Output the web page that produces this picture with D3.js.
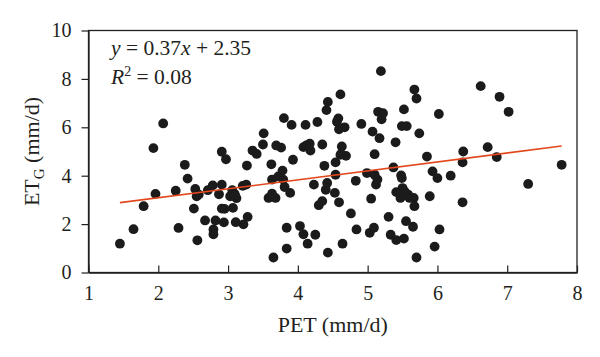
<!DOCTYPE html>
<html>
<head>
<meta charset="utf-8">
<script src="https://cdn.jsdelivr.net/npm/d3@7"></script>
<style>
  html, body { margin: 0; padding: 0; background: #fff; }
  svg { display: block; }
  text { font-family: "Liberation Serif", "DejaVu Serif", serif; fill: #231f20; }
</style>
</head>
<body>
<script>
// ---- data ----
const pet = [1.45,1.645,1.79,1.96,1.93,2.07,2.25,2.29,2.38,2.42,2.51,2.53,2.55,2.58,2.56,2.67,2.71,2.78,2.79,2.79,2.82,2.87,2.91,2.91,2.91,2.94,2.97,2.95,3.03,3.06,3.07,3.09,3.12,3.11,3.21,3.22,3.26,3.27,3.28,3.35,3.41,3.50,3.51,3.58,3.62,3.63,3.63,3.65,3.68,3.69,3.72,3.76,3.78,3.80,3.79,3.81,3.84,3.84,3.91,3.89,3.93,4.03,4.08,4.08,4.11,4.14,4.14,4.17,4.18,4.23,4.25,4.28,4.30,4.35,4.35,4.38,4.41,4.43,4.40,4.42,4.43,4.53,4.54,4.54,4.56,4.58,4.59,4.59,4.61,4.63,4.61,4.64,4.67,4.69,4.76,4.83,4.84,4.91,4.99,5.03,5.05,5.07,5.09,5.10,5.10,5.12,5.14,5.15,5.17,5.19,5.20,5.22,5.30,5.33,5.37,5.40,5.41,5.41,5.47,5.48,5.49,5.50,5.52,5.52,5.49,5.55,5.56,5.58,5.60,5.65,5.66,5.67,5.67,5.70,5.70,5.74,5.85,5.89,5.93,5.96,6.00,6.02,6.03,6.19,6.36,6.37,6.36,6.62,6.72,6.85,6.89,7.02,7.30,7.78,5.45,5.53,3.10,4.62,4.12];
const etg = [1.19,1.79,2.74,3.25,5.14,6.16,3.38,1.84,4.45,3.88,2.64,3.45,3.15,3.22,1.33,2.15,3.40,3.60,1.78,1.58,2.15,3.23,3.63,4.99,2.64,2.07,4.68,2.63,3.15,3.40,2.67,3.26,3.07,2.08,3.58,1.99,3.63,4.42,2.30,5.04,4.90,5.29,5.75,3.08,4.47,3.26,3.84,0.62,3.08,5.25,3.97,5.16,4.21,6.38,3.84,3.53,1.85,0.99,6.10,3.29,4.66,1.92,1.58,5.18,6.10,1.19,5.21,5.32,5.04,3.63,1.56,6.22,2.78,2.95,5.29,4.41,6.71,7.05,3.42,3.70,0.82,3.29,4.55,4.04,6.23,6.37,2.90,5.92,7.36,5.21,4.86,1.19,6.00,4.82,2.44,3.79,1.78,6.14,4.11,1.64,3.05,5.82,1.85,4.89,4.04,3.63,3.84,6.64,5.55,8.32,6.33,6.58,2.30,1.56,4.34,5.38,1.34,3.32,3.08,4.01,3.90,3.49,6.74,1.40,6.05,2.12,6.05,3.22,3.08,1.89,3.08,2.74,7.56,7.19,0.62,5.75,4.79,3.15,4.18,1.07,3.90,6.55,1.78,4.00,4.55,5.00,2.90,7.70,5.18,4.77,7.26,6.64,3.66,4.45,3.30,3.35,3.20,4.90,5.25];
const slope = 0.37, intercept = 2.35;
const fitRange = [1.45, 7.78];
const xTicks = [1, 2, 3, 4, 5, 6, 7, 8];
const yTicks = [0, 2, 4, 6, 8, 10];

// ---- layout ----
const W = 600, H = 357;
const L = 88.5, R = 577, T = 30.5, B = 272.5;

const svg = d3.select("body").append("svg").attr("width", W).attr("height", H);

const x = d3.scaleLinear().domain([1, 8]).range([L, R]);
const y = d3.scaleLinear().domain([0, 10]).range([B, T]);

const ink = "#231f20";

// points
svg.append("g").selectAll("circle")
  .data(pet.map((p, i) => [p, etg[i]]))
  .join("circle")
  .attr("cx", d => x(d[0]))
  .attr("cy", d => y(d[1]))
  .attr("r", 4.9)
  .attr("fill", "#1b1b1b");

// regression line
svg.append("line")
  .attr("x1", x(fitRange[0])).attr("y1", y(slope * fitRange[0] + intercept))
  .attr("x2", x(fitRange[1])).attr("y2", y(slope * fitRange[1] + intercept))
  .attr("stroke", "#e2471d").attr("stroke-width", 1.6);

// axes
const xAxis = d3.axisBottom(x).tickValues(xTicks).tickFormat(d3.format("d"))
  .tickSizeInner(-7).tickSizeOuter(0).tickPadding(13);
const gx = svg.append("g").attr("transform", `translate(0,${B})`).call(xAxis);
const yAxis = d3.axisLeft(y).tickValues(yTicks).tickFormat(d3.format("d"))
  .tickSizeInner(7).tickSizeOuter(0).tickPadding(10);
const gy = svg.append("g").attr("transform", `translate(${L},0)`).call(yAxis);

[gx, gy].forEach(g => {
  g.selectAll("path").attr("stroke", ink).attr("stroke-width", 1.3);
  g.selectAll("line").attr("stroke", ink).attr("stroke-width", 1.2);
  g.selectAll("text").attr("font-size", 20).attr("fill", ink)
    .attr("font-family", "Liberation Serif, serif");
});

// frame (top and right)
svg.append("rect").attr("x", L).attr("y", T).attr("width", R - L).attr("height", B - T)
  .attr("fill", "none").attr("stroke", ink).attr("stroke-width", 1.3);

// axis titles
svg.append("text").attr("x", (L + R) / 2).attr("y", 332)
  .attr("text-anchor", "middle").attr("font-size", 22).text("PET (mm/d)");

const yl = svg.append("text")
  .attr("transform", `translate(38.5,${(T + B) / 2}) rotate(-90)`)
  .attr("text-anchor", "middle").attr("font-size", 22);
yl.append("tspan").text("ET");
yl.append("tspan").attr("font-size", 15).attr("dy", 5).text("G");
yl.append("tspan").attr("dy", -5).text(" (mm/d)");

// equation
const eq = svg.append("text").attr("x", 111).attr("y", 55).attr("font-size", 21.5);
eq.append("tspan").attr("font-style", "italic").text("y");
eq.append("tspan").text(" = 0.37");
eq.append("tspan").attr("font-style", "italic").text("x");
eq.append("tspan").text(" + 2.35");

const r2 = svg.append("text").attr("x", 111).attr("y", 83.5).attr("font-size", 21.5);
r2.append("tspan").attr("font-style", "italic").text("R");
r2.append("tspan").attr("font-size", 14).attr("dy", -8).text("2");
r2.append("tspan").attr("dy", 8).text(" = 0.08");
</script>
</body>
</html>
